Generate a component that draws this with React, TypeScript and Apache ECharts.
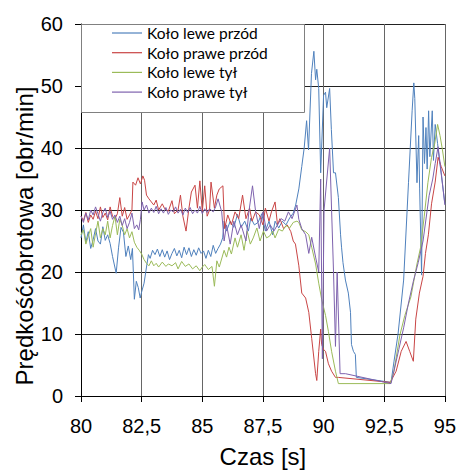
import React, { useEffect, useRef } from "react";
import * as echarts from "echarts";

const seriesNames = ["Koło lewe przód", "Koło prawe przód", "Koło lewe tył", "Koło prawe tył"];
const xTickValues = [80, 82.5, 85, 87.5, 90, 92.5, 95];
const yTickValues = [0, 10, 20, 30, 40, 50, 60];
const xTitle = "Czas [s]";
const yTitle = "Prędkośćobrotowa [obr/min]";

// [czas s, prędkość obr/min]
const lewePrzod: [number, number][] = [
  [80.0, 25.5], [80.1, 27.6], [80.2, 24.8], [80.3, 26.5], [80.4, 23.8], [80.5, 25.2], [80.6, 27.0], [80.7, 25.0],
  [80.8, 24.5], [80.9, 27.3], [81.0, 25.1], [81.1, 26.0], [81.2, 24.6], [81.3, 22.5], [81.45, 19.8], [81.55, 24.0],
  [81.65, 27.2], [81.75, 26.4], [81.85, 22.5], [81.95, 24.2], [82.05, 22.0], [82.12, 23.8], [82.2, 15.6], [82.28, 18.5],
  [82.36, 17.5], [82.44, 15.8], [82.5, 16.8], [82.6, 18.2], [82.7, 20.8], [82.78, 22.8], [82.85, 22.2], [82.95, 23.5],
  [83.05, 22.8], [83.15, 23.7], [83.25, 22.5], [83.35, 23.6], [83.45, 22.4], [83.55, 23.4], [83.65, 22.0], [83.75, 23.0],
  [83.85, 23.8], [83.95, 22.6], [84.05, 23.5], [84.15, 22.3], [84.25, 24.0], [84.35, 22.8], [84.45, 23.9], [84.55, 22.5],
  [84.65, 23.6], [84.75, 22.7], [84.85, 23.9], [84.95, 23.0], [85.05, 23.4], [85.15, 22.2], [85.25, 23.5], [85.35, 22.5],
  [85.45, 24.3], [85.55, 23.0], [85.65, 23.8], [85.75, 24.5], [85.84, 25.5], [85.9, 28.2], [86.0, 26.6], [86.15, 28.2],
  [86.3, 27.2], [86.45, 29.3], [86.6, 27.2], [86.75, 28.2], [86.9, 26.6], [87.0, 28.7], [87.15, 27.6], [87.3, 28.0],
  [87.45, 29.4], [87.6, 26.6], [87.75, 28.2], [87.9, 26.0], [88.0, 28.2], [88.15, 27.1], [88.3, 28.2], [88.45, 27.6],
  [88.6, 28.7], [88.75, 29.5], [88.85, 30.8], [88.98, 33.4], [89.1, 37.0], [89.2, 40.0], [89.3, 44.4], [89.38, 39.7],
  [89.5, 52.0], [89.6, 55.6], [89.67, 51.0], [89.72, 52.7], [89.8, 49.6], [89.88, 36.0], [90.0, 48.5], [90.08, 49.0],
  [90.13, 46.5], [90.25, 49.6], [90.32, 43.0], [90.41, 36.0], [90.49, 36.0], [90.61, 32.0], [90.7, 26.0], [90.74, 24.0],
  [90.8, 21.5], [90.9, 18.7], [91.02, 16.6], [91.11, 13.5], [91.15, 8.3], [91.23, 7.2], [91.31, 6.7], [91.35, 3.0],
  [92.78, 2.2], [92.9, 5.5], [93.07, 10.0], [93.3, 18.7], [93.5, 34.4], [93.65, 46.0], [93.72, 50.5], [93.76, 48.0],
  [93.85, 34.4], [93.92, 42.0], [93.96, 33.4], [94.04, 19.5], [94.1, 45.0], [94.16, 37.5], [94.22, 43.3], [94.27, 36.6],
  [94.33, 46.0], [94.38, 38.6], [94.48, 46.0], [94.53, 38.0], [94.6, 43.8], [94.7, 40.7], [94.76, 38.6], [94.86, 35.5],
  [95.0, 31.0],
];

const prawePrzod: [number, number][] = [
  [80.0, 29.0], [80.1, 28.3], [80.2, 29.6], [80.3, 28.0], [80.4, 29.2], [80.5, 28.5], [80.6, 29.8], [80.7, 28.6],
  [80.8, 30.5], [80.9, 28.8], [81.0, 29.5], [81.1, 28.4], [81.2, 30.5], [81.3, 29.0], [81.4, 28.6], [81.5, 29.4],
  [81.6, 32.0], [81.7, 29.0], [81.8, 30.4], [81.9, 28.5], [82.0, 29.2], [82.1, 30.0], [82.14, 34.5], [82.25, 34.0],
  [82.35, 35.2], [82.45, 34.2], [82.55, 35.5], [82.62, 34.8], [82.7, 32.4], [82.8, 31.8], [82.9, 31.3], [83.0, 30.8],
  [83.1, 31.6], [83.2, 30.0], [83.35, 31.0], [83.45, 30.2], [83.6, 29.8], [83.75, 31.5], [83.85, 29.4], [84.0, 30.0],
  [84.1, 32.4], [84.2, 29.0], [84.33, 26.6], [84.45, 30.3], [84.55, 32.9], [84.7, 34.0], [84.8, 30.3], [84.9, 34.7],
  [85.0, 29.8], [85.1, 33.9], [85.2, 29.0], [85.3, 30.0], [85.36, 34.5], [85.5, 30.3], [85.6, 32.4], [85.7, 33.4],
  [85.85, 33.9], [85.92, 27.0], [86.05, 29.2], [86.2, 27.6], [86.35, 29.7], [86.5, 28.6], [86.66, 32.4], [86.8, 28.6],
  [86.95, 30.3], [87.05, 28.2], [87.2, 29.7], [87.35, 29.2], [87.5, 27.6], [87.6, 30.3], [87.75, 28.2], [87.85, 29.7],
  [88.0, 31.3], [88.1, 27.6], [88.2, 28.6], [88.35, 27.0], [88.5, 27.6], [88.65, 26.5], [88.75, 25.0], [88.84, 24.5],
  [88.98, 21.0], [89.1, 16.6], [89.26, 15.8], [89.39, 13.5], [89.51, 9.3], [89.67, 3.6], [89.72, 2.5], [89.8, 7.2],
  [89.88, 10.8], [89.92, 8.3], [90.0, 7.5], [90.08, 7.2], [90.2, 5.2], [90.33, 4.0], [90.49, 3.0], [90.61, 3.0],
  [92.75, 2.2], [92.99, 4.0], [93.2, 7.2], [93.4, 8.8], [93.55, 7.2], [93.7, 5.6], [93.8, 12.4], [93.95, 16.6],
  [94.1, 19.3], [94.2, 23.0], [94.32, 26.0], [94.45, 31.0], [94.6, 34.5], [94.72, 38.5], [94.85, 37.0], [95.0, 35.5],
];

const leweTyl: [number, number][] = [
  [80.0, 26.0], [80.1, 26.8], [80.2, 24.5], [80.3, 25.8], [80.4, 27.0], [80.5, 24.0], [80.6, 26.2], [80.7, 28.2],
  [80.8, 25.5], [80.9, 27.0], [81.0, 26.0], [81.1, 28.2], [81.2, 25.5], [81.3, 27.5], [81.4, 29.0], [81.5, 26.0],
  [81.6, 28.5], [81.7, 27.5], [81.8, 26.0], [81.9, 27.0], [82.0, 25.5], [82.1, 26.5], [82.2, 24.8], [82.3, 24.0],
  [82.4, 23.5], [82.5, 22.9], [82.6, 22.0], [82.7, 21.4], [82.8, 21.0], [82.9, 21.8], [83.0, 21.0], [83.1, 21.4],
  [83.2, 20.8], [83.35, 21.6], [83.5, 20.9], [83.6, 21.3], [83.75, 21.0], [83.9, 21.5], [84.0, 20.5], [84.15, 21.7],
  [84.3, 20.9], [84.45, 21.3], [84.6, 20.5], [84.75, 21.0], [84.9, 20.2], [85.0, 20.8], [85.1, 21.2], [85.25, 20.4],
  [85.4, 20.9], [85.5, 17.7], [85.6, 21.8], [85.7, 20.8], [85.9, 23.5], [86.0, 22.4], [86.1, 24.0], [86.2, 22.9],
  [86.35, 25.5], [86.45, 24.0], [86.6, 26.0], [86.72, 23.5], [86.85, 26.6], [86.98, 24.5], [87.1, 25.5], [87.25, 27.1],
  [87.38, 25.0], [87.52, 26.6], [87.65, 25.5], [87.78, 25.8], [87.9, 26.6], [88.0, 25.5], [88.15, 26.9], [88.3, 26.6],
  [88.45, 27.5], [88.6, 27.1], [88.75, 28.0], [88.9, 28.2], [88.98, 28.0], [89.1, 26.8], [89.26, 26.5], [89.39, 26.0],
  [89.51, 24.0], [89.67, 21.3], [89.8, 18.2], [89.92, 15.6], [90.08, 13.0], [90.2, 10.4], [90.33, 7.2], [90.49, 4.0],
  [90.61, 2.0], [92.75, 2.0], [92.9, 4.0], [93.15, 9.9], [93.35, 13.0], [93.6, 16.0], [93.85, 21.3], [94.0, 24.0],
  [94.15, 29.0], [94.3, 34.4], [94.45, 38.5], [94.58, 40.7], [94.7, 43.8], [94.8, 42.0], [94.9, 39.7], [95.0, 37.0],
];

const praweTyl: [number, number][] = [
  [80.0, 29.0], [80.1, 28.0], [80.2, 29.5], [80.3, 28.4], [80.4, 30.0], [80.5, 29.2], [80.6, 30.5], [80.7, 29.4],
  [80.8, 28.2], [80.9, 29.6], [81.0, 30.3], [81.1, 28.8], [81.2, 29.8], [81.3, 28.5], [81.4, 29.2], [81.5, 28.0],
  [81.6, 29.0], [81.7, 27.5], [81.8, 28.6], [81.9, 27.0], [82.0, 28.0], [82.1, 29.5], [82.2, 27.0], [82.3, 27.6],
  [82.38, 26.8], [82.45, 28.5], [82.52, 31.3], [82.6, 30.0], [82.7, 30.8], [82.8, 29.5], [82.9, 30.3], [83.0, 29.6],
  [83.1, 30.6], [83.2, 29.4], [83.3, 30.2], [83.4, 29.5], [83.5, 30.4], [83.6, 29.3], [83.7, 30.0], [83.8, 29.7],
  [83.9, 30.5], [84.0, 29.5], [84.1, 30.1], [84.2, 29.2], [84.3, 30.3], [84.4, 29.6], [84.5, 30.4], [84.6, 29.4],
  [84.7, 30.0], [84.8, 29.5], [84.9, 30.6], [85.0, 29.4], [85.1, 30.2], [85.2, 29.6], [85.3, 30.2], [85.45, 29.7],
  [85.55, 30.5], [85.65, 31.8], [85.8, 29.7], [85.9, 25.0], [86.0, 27.6], [86.15, 24.5], [86.3, 28.2], [86.45, 26.0],
  [86.6, 27.6], [86.8, 25.0], [86.92, 29.7], [87.07, 33.9], [87.2, 29.7], [87.35, 27.0], [87.5, 29.7], [87.65, 26.6],
  [87.8, 27.6], [87.95, 26.6], [88.1, 27.6], [88.25, 28.6], [88.4, 28.2], [88.55, 29.7], [88.7, 28.6], [88.9, 30.8],
  [88.98, 28.5], [89.1, 27.0], [89.26, 26.0], [89.39, 23.0], [89.51, 25.6], [89.67, 22.4], [89.8, 20.0], [89.88, 35.0],
  [89.95, 6.0], [90.02, 30.0], [90.25, 40.0], [90.41, 20.0], [90.49, 8.0], [90.56, 20.0], [90.68, 3.6], [90.9, 3.6],
  [92.78, 2.0], [92.9, 4.0], [93.1, 7.5], [93.3, 11.0], [93.5, 15.0], [93.7, 18.5], [93.9, 21.5], [94.1, 25.0],
  [94.35, 32.3], [94.5, 35.0], [94.6, 37.5], [94.72, 40.2], [94.85, 36.0], [95.0, 30.8],
];

const seriesData = [lewePrzod, prawePrzod, leweTyl, praweTyl];
const seriesColors = ["#4F81BD", "#C94545", "#9BBB59", "#7E62AE"];

const FONT = "Arial, 'Liberation Sans', sans-serif";

export default function App() {
  const ref = useRef<HTMLDivElement>(null);
  useEffect(() => {
    if (!ref.current) return;
    const chart = echarts.init(ref.current, undefined, { renderer: "svg" });
    const fmt = (v: number) => String(v).replace(".", ",");
    chart.setOption({
      animation: false,
      backgroundColor: "#ffffff",
      grid: { left: 81, right: 12, top: 24, bottom: 67, containLabel: false },
      xAxis: {
        type: "value",
        min: xTickValues[0],
        max: xTickValues[xTickValues.length - 1],
        interval: 2.5,
        name: xTitle,
        nameLocation: "middle",
        nameGap: 48,
        nameTextStyle: { fontFamily: FONT, fontSize: 24, color: "#000" },
        axisLine: { show: true, lineStyle: { color: "#000", width: 1 } },
        axisTick: { show: true, length: 6, lineStyle: { color: "#000" } },
        axisLabel: { formatter: fmt, fontFamily: FONT, fontSize: 20, color: "#000", margin: 20 },
        splitLine: { show: true, lineStyle: { color: "#666", width: 1 } },
      },
      yAxis: {
        type: "value",
        min: yTickValues[0],
        max: yTickValues[yTickValues.length - 1],
        interval: 10,
        axisLine: { show: true, lineStyle: { color: "#000", width: 1 } },
        axisTick: { show: true, length: 6, lineStyle: { color: "#000" } },
        axisLabel: { fontFamily: FONT, fontSize: 20, color: "#000", margin: 18 },
        splitLine: { show: true, lineStyle: { color: "#222", width: 1 } },
      },
      legend: {
        orient: "vertical",
        left: 112,
        top: 23.5,
        padding: 0,
        itemGap: 0.7,
        itemWidth: 30,
        itemHeight: 1.2,
        icon: "rect",
        z: 10,
        textStyle: { fontFamily: "Lato", fontSize: 15.5, color: "#000", lineHeight: 19 },
        data: seriesNames,
      },
      graphic: [
        {
          type: "rect",
          z: 5,
          shape: { x: 81.5, y: 24.5, width: 223, height: 88 },
          style: { fill: "#fff", stroke: "#808080", lineWidth: 1 },
        },
        {
          type: "text",
          x: 24,
          y: 236,
          rotation: Math.PI / 2,
          style: {
            text: yTitle,
            fontFamily: FONT,
            fontSize: 24,
            fill: "#000",
            align: "center",
            verticalAlign: "middle",
          },
        },
      ],
      series: seriesData.map((d, i) => ({
        name: seriesNames[i],
        type: "line",
        data: d,
        symbol: "none",
        color: seriesColors[i],
        lineStyle: { width: 1, color: seriesColors[i] },
      })),
    });
    return () => chart.dispose();
  }, []);
  return <div ref={ref} style={{ width: 459, height: 473, position: "absolute", left: 0, top: 0 }} />;
}
